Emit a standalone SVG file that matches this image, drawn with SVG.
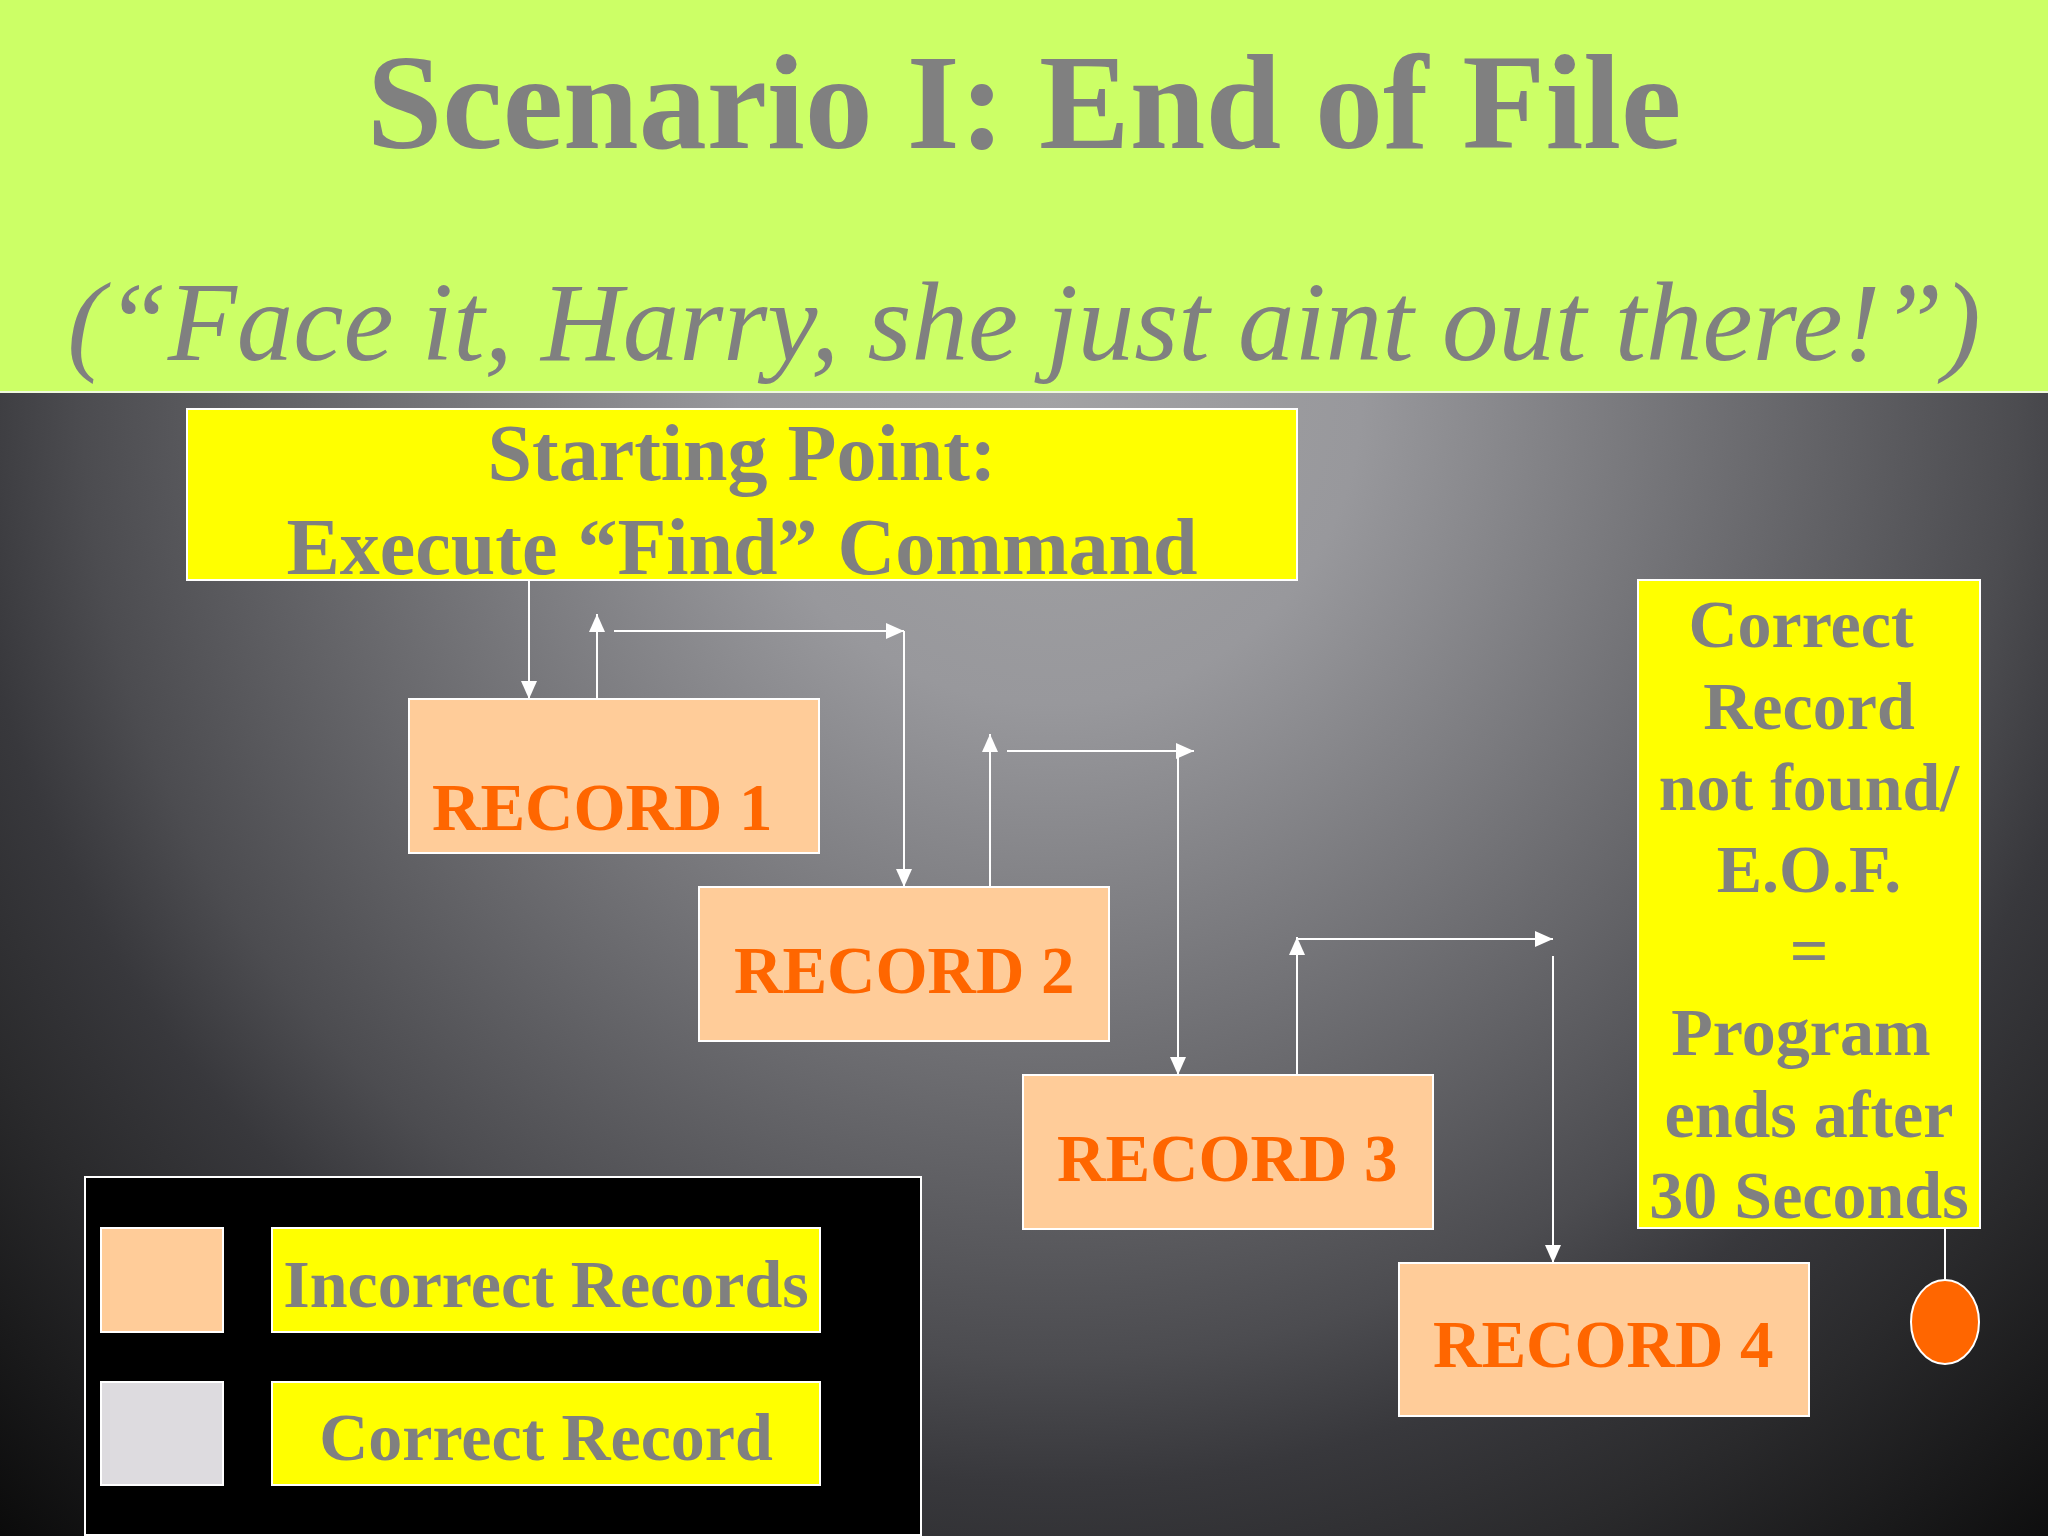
<svg xmlns="http://www.w3.org/2000/svg" width="2048" height="1536" viewBox="0 0 2048 1536">
<defs>
<radialGradient id="bg" gradientUnits="userSpaceOnUse" cx="1050" cy="392" r="1560">
<stop offset="0" stop-color="#a2a2a4"/>
<stop offset="0.2" stop-color="#98989c"/>
<stop offset="0.42" stop-color="#707074"/>
<stop offset="0.62" stop-color="#4c4c50"/>
<stop offset="0.7" stop-color="#38383c"/>
<stop offset="0.8" stop-color="#2a2a2c"/>
<stop offset="1" stop-color="#0a0a0a"/>
</radialGradient>
<marker id="ah" markerUnits="userSpaceOnUse" markerWidth="18" markerHeight="16" refX="18" refY="8" orient="auto">
<path d="M0,0 L18,8 L0,16 z" fill="#ffffff"/>
</marker>
<style>
.gray{fill:#808080;font-family:"Liberation Serif","Times New Roman",serif;font-weight:bold}
.rec{fill:#ffcc99;stroke:#ffffff;stroke-width:2}
.yel{fill:#ffff00;stroke:#ffffff;stroke-width:2}
.rtxt{fill:#ff6600;font-family:"Liberation Serif","Times New Roman",serif;font-weight:bold;font-size:67px}
.conn{stroke:#ffffff;stroke-width:2;fill:none}
</style>
</defs>
<rect x="0" y="392" width="2048" height="1144" fill="url(#bg)"/>
<rect x="0" y="0" width="2048" height="392" fill="#ccff66"/>
<line x1="0" y1="392" x2="2048" y2="392" stroke="#eef8dd" stroke-width="2"/>
<text x="1024" y="148" text-anchor="middle" class="gray" font-size="136">Scenario I: End of File</text>
<text x="1024" y="360" text-anchor="middle" fill="#808080" font-family="'Liberation Serif','Times New Roman',serif" font-style="italic" font-size="113">(“Face it, Harry, she just aint out there!”)</text>

<g id="start">
<rect x="187" y="409" width="1110" height="171" class="yel"/>
<text x="742" y="480" text-anchor="middle" class="gray" font-size="80">Starting Point:</text>
<text x="742" y="574" text-anchor="middle" class="gray" font-size="80">Execute “Find” Command</text>
</g>

<g id="record1">
<rect x="409" y="699" width="410" height="154" class="rec"/>
<text x="432" y="830" class="rtxt">RECORD 1</text>
</g>
<g id="record2">
<rect x="699" y="887" width="410" height="154" class="rec"/>
<text x="734" y="993" class="rtxt">RECORD 2</text>
</g>
<g id="record3">
<rect x="1023" y="1075" width="410" height="154" class="rec"/>
<text x="1057" y="1181" class="rtxt">RECORD 3</text>
</g>
<g id="record4">
<rect x="1399" y="1263" width="410" height="153" class="rec"/>
<text x="1433" y="1367" class="rtxt">RECORD 4</text>
</g>

<g id="result">
<rect x="1638" y="580" width="342" height="648" class="yel"/>
<g class="gray" font-size="68" text-anchor="middle">
<text x="1801" y="647">Correct</text>
<text x="1809" y="729">Record</text>
<text x="1809" y="810">not found/</text>
<text x="1809" y="892">E.O.F.</text>
<text x="1809" y="973">=</text>
<text x="1801" y="1055">Program</text>
<text x="1809" y="1137">ends after</text>
<text x="1809" y="1218">30 Seconds</text>
</g>
</g>

<g id="end">
<ellipse cx="1945" cy="1322" rx="34" ry="42" fill="#ff6600" stroke="#ffffff" stroke-width="2"/>
</g>

<g id="legend">
<rect x="85" y="1177" width="836" height="358" fill="#000000" stroke="#ffffff" stroke-width="2"/>
<rect x="101" y="1228" width="122" height="104" fill="#ffcc99" stroke="#ffffff" stroke-width="2"/>
<rect x="272" y="1228" width="548" height="104" class="yel"/>
<text x="546" y="1307" text-anchor="middle" class="gray" font-size="68">Incorrect Records</text>
<rect x="101" y="1382" width="122" height="103" fill="#dddbdf" stroke="#ffffff" stroke-width="2"/>
<rect x="272" y="1382" width="548" height="103" class="yel"/>
<text x="546" y="1460" text-anchor="middle" class="gray" font-size="68">Correct Record</text>
</g>

<g id="connectors" class="conn">
<line x1="529" y1="580" x2="529" y2="699" marker-end="url(#ah)"/>
<line x1="597" y1="699" x2="597" y2="614" marker-end="url(#ah)"/>
<line x1="614" y1="631" x2="904" y2="631" marker-end="url(#ah)"/>
<line x1="904" y1="631" x2="904" y2="887" marker-end="url(#ah)"/>
<line x1="990" y1="887" x2="990" y2="734" marker-end="url(#ah)"/>
<line x1="1007" y1="751" x2="1194" y2="751" marker-end="url(#ah)"/>
<line x1="1178" y1="751" x2="1178" y2="1075" marker-end="url(#ah)"/>
<line x1="1297" y1="1075" x2="1297" y2="937" marker-end="url(#ah)"/>
<line x1="1297" y1="939" x2="1553" y2="939" marker-end="url(#ah)"/>
<line x1="1553" y1="956" x2="1553" y2="1263" marker-end="url(#ah)"/>
<line x1="1945" y1="1228" x2="1945" y2="1280"/>
</g>
</svg>
